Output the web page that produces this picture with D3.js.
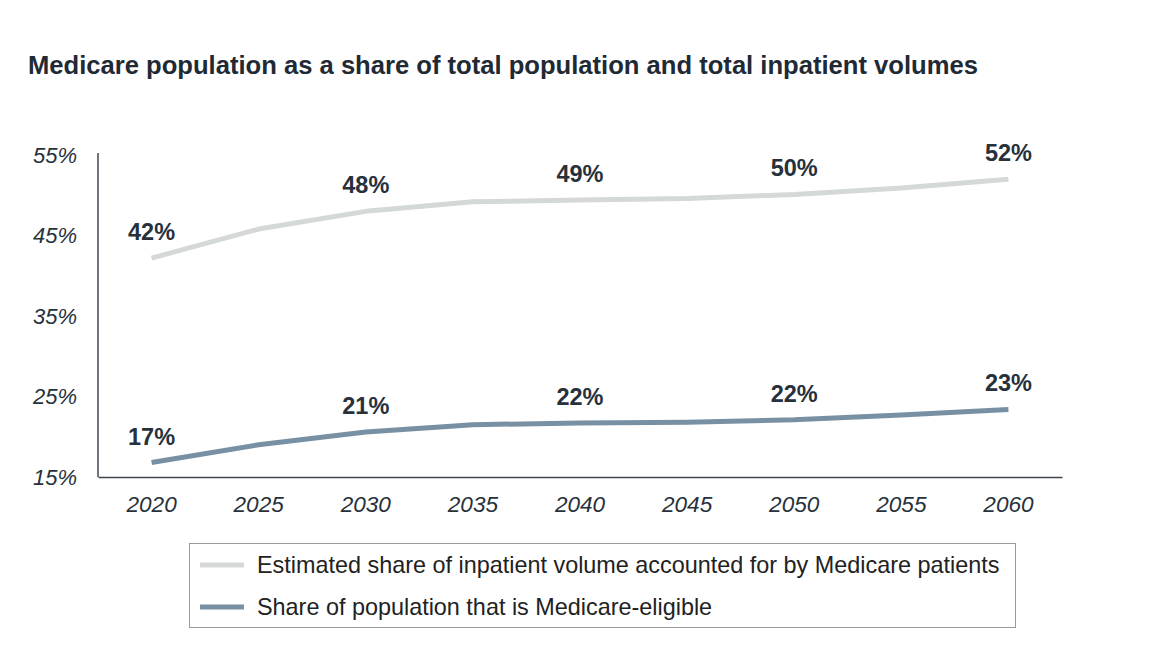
<!DOCTYPE html>
<html>
<head>
<meta charset="utf-8">
<script src="https://cdn.jsdelivr.net/npm/d3@7"></script>
<style>
  body { margin: 0; background: #fff; }
  svg { display: block; }
  text { font-family: "Liberation Sans", Arial, sans-serif; }
</style>
</head>
<body>
<svg id="chart" width="1152" height="664"></svg>
<script>
const years = ["2020","2025","2030","2035","2040","2045","2050","2055","2060"];
const inpatientShare = [42.2, 45.8, 48.0, 49.2, 49.4, 49.6, 50.1, 50.9, 52.0];
const medicareEligible = [16.8, 19.0, 20.6, 21.5, 21.7, 21.8, 22.1, 22.7, 23.4];
const inpatientLabels = ["42%", null, "48%", null, "49%", null, "50%", null, "52%"];
const eligibleLabels = ["17%", null, "21%", null, "22%", null, "22%", null, "23%"];
const yTicks = [15, 25, 35, 45, 55];
const seriesNames = [
  "Estimated share of inpatient volume accounted for by Medicare patients",
  "Share of population that is Medicare-eligible"
];
const title = "Medicare population as a share of total population and total inpatient volumes";

(function () {
const svg = d3.select("#chart");
const dark = "#27313b";
const colors = ["#d5d8d8", "#7890a3"];

svg.append("text")
  .attr("x", 28).attr("y", 74)
  .attr("font-size", 25.6).attr("font-weight", "bold")
  .attr("fill", "#1f2a35")
  .text(title);

const mLeft = 98, mRight = 1062, mTop = 155, mBottom = 477;
const x = d3.scaleBand().domain(years).range([mLeft, mRight]);
const y = d3.scaleLinear().domain([15, 55]).range([mBottom, mTop]);
const cx = d => x(d) + x.bandwidth() / 2;

const yAxis = svg.append("g").attr("transform", `translate(${mLeft},0)`)
  .call(d3.axisLeft(y).tickValues(yTicks).tickSize(0).tickPadding(21).tickFormat(d => d + "%"));
yAxis.select(".domain").attr("stroke", "#3d4650").attr("stroke-width", 1.5).attr("d", `M0,${mTop - 2}V${mBottom}`);
yAxis.selectAll("text").attr("font-size", 22).attr("font-style", "italic").attr("fill", dark)
  .attr("font-family", "'Liberation Sans', Arial, sans-serif");

const xAxis = svg.append("g").attr("transform", `translate(0,${mBottom})`)
  .call(d3.axisBottom(x).tickSize(0).tickPadding(19));
xAxis.select(".domain").attr("stroke", "#3d4650").attr("stroke-width", 1.5);
xAxis.selectAll("text").attr("font-size", 22.6).attr("font-style", "italic").attr("fill", dark)
  .attr("font-family", "'Liberation Sans', Arial, sans-serif");

const line = d3.line().x((d, i) => cx(years[i])).y(d => y(d));
const series = [inpatientShare, medicareEligible];
const labelSets = [inpatientLabels, eligibleLabels];

series.forEach((s, k) => {
  svg.append("path").datum(s)
    .attr("fill", "none").attr("stroke", colors[k]).attr("stroke-width", 5)
    .attr("stroke-linejoin", "round")
    .attr("d", line);
  s.forEach((v, i) => {
    if (labelSets[k][i] === null) return;
    svg.append("text")
      .attr("x", cx(years[i])).attr("y", y(v) - 18)
      .attr("text-anchor", "middle")
      .attr("font-size", 23.5).attr("font-weight", "bold").attr("fill", dark)
      .text(labelSets[k][i]);
  });
});

const lg = svg.append("g");
lg.append("rect").attr("x", 189.5).attr("y", 543.5).attr("width", 826).attr("height", 84)
  .attr("fill", "#fff").attr("stroke", "#9a9a9a").attr("stroke-width", 1);
seriesNames.forEach((name, k) => {
  const yy = 565 + k * 42;
  lg.append("line").attr("x1", 200).attr("x2", 244).attr("y1", yy).attr("y2", yy)
    .attr("stroke", colors[k]).attr("stroke-width", 5);
  lg.append("text").attr("x", 257).attr("y", yy + 8)
    .attr("font-size", 23.4).attr("fill", "#222")
    .text(name);
});
})();
</script>
</body>
</html>
